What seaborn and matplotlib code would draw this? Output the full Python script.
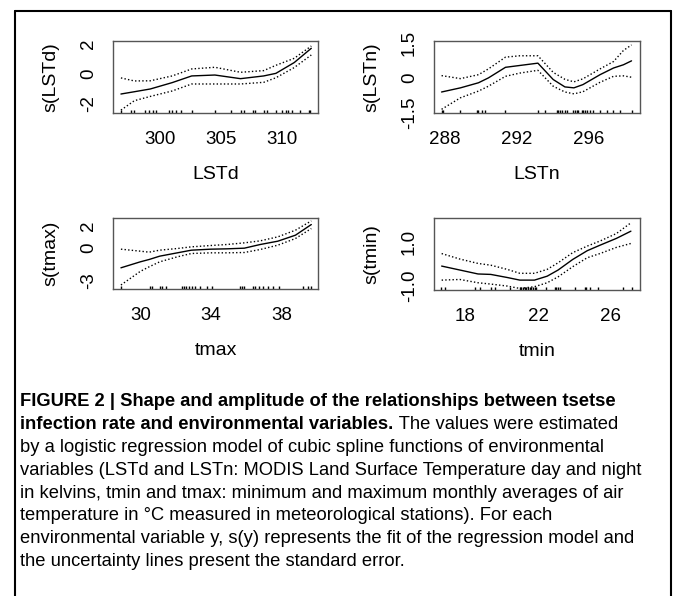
import numpy as np
import pandas as pd
import seaborn as sns
import matplotlib.pyplot as plt
from matplotlib.lines import Line2D

# ---- LSTd panel ----
lstd_x = [296.8, 297.9, 299.2, 301.0, 302.6, 304.5, 306.6, 308.5, 309.5, 311.0, 312.4]
lstd_fit = [-1.34, -1.19, -1.01, -0.59, -0.15, -0.09, -0.33, -0.15, 0.02, 0.73, 1.67]
lstd_up = [-0.28, -0.48, -0.47, -0.15, 0.31, 0.42, 0.09, 0.20, 0.55, 1.01, 1.82]
lstd_lo = [-2.40, -1.78, -1.50, -1.14, -0.68, -0.68, -0.68, -0.57, -0.27, 0.40, 1.23]
lstd_rug = [296.8, 297.6, 297.9, 298.8, 299.1, 299.4, 299.7, 300.7, 301.0, 301.3,
            301.7, 302.6, 304.5, 305.8, 306.6, 306.9, 307.6, 307.8, 308.5, 308.8,
            309.5, 310.0, 310.3, 310.5, 310.8, 311.5, 312.2, 312.3]

# ---- LSTn panel ----
lstn_x = [287.85, 288.9, 289.9, 290.45, 291.4, 292.2, 293.2, 294.05, 294.7, 295.2,
          295.7, 296.65, 297.4, 297.95, 298.4]
lstn_fit = [-0.61, -0.43, -0.21, 0.0, 0.46, 0.54, 0.64, -0.07, -0.39, -0.43,
            -0.29, 0.14, 0.43, 0.57, 0.74]
lstn_up = [0.10, -0.03, 0.14, 0.39, 0.90, 0.96, 0.96, 0.24, -0.06, -0.17,
           -0.04, 0.39, 0.71, 1.19, 1.43]
lstn_lo = [-1.36, -0.86, -0.57, -0.36, 0.07, 0.21, 0.33, -0.36, -0.61, -0.69,
           -0.60, -0.19, 0.07, 0.09, 0.03]
lstn_rug = [287.85, 287.94, 288.87, 289.8, 289.89, 290.07, 290.26, 291.37, 293.22,
            293.59, 294.24, 294.33, 294.43, 294.52, 294.7, 294.8, 295.17, 295.26,
            295.35, 295.44, 295.63, 295.72, 295.81, 295.91, 296.09, 296.28, 296.65,
            297.02, 297.39, 297.76, 298.41]

# ---- tmax panel ----
tmax_x = [28.9, 30.0, 30.5, 31.1, 32.1, 32.9, 34.0, 34.9, 35.9, 36.8, 37.8, 38.8, 39.7]
tmax_fit = [-1.83, -1.29, -1.08, -0.78, -0.48, -0.24, -0.15, -0.12, -0.06, 0.27, 0.57, 1.11, 2.07]
tmax_up = [-0.15, -0.33, -0.42, -0.24, -0.09, 0.06, 0.18, 0.27, 0.42, 0.60, 0.96, 1.56, 2.40]
tmax_lo = [-3.38, -2.15, -1.74, -1.29, -0.84, -0.54, -0.48, -0.48, -0.45, -0.18, 0.21, 0.81, 1.71]
tmax_rug = [28.91, 30.53, 30.66, 31.09, 31.23, 31.47, 32.36, 32.45, 32.6, 32.74, 32.92,
            33.11, 33.36, 33.81, 34.06, 35.66, 35.75, 35.89, 36.38, 36.51, 36.75,
            36.94, 37.26, 37.55, 37.89, 39.21, 39.53, 39.66]

# ---- tmin panel ----
tmin_x = [16.7, 17.7, 18.7, 19.4, 20.3, 21.0, 21.8, 22.5, 23.1, 23.9, 24.7, 25.4, 26.3, 27.1]
tmin_fit = [-0.09, -0.27, -0.45, -0.47, -0.61, -0.73, -0.73, -0.55, -0.27, 0.21, 0.61, 0.86, 1.17, 1.50]
tmin_up = [0.48, 0.23, 0.03, -0.05, -0.24, -0.42, -0.42, -0.24, 0.06, 0.52, 0.82, 1.05, 1.39, 1.88]
tmin_lo = [-0.73, -0.70, -0.85, -0.91, -1.00, -1.11, -1.03, -0.85, -0.58, -0.12, 0.29, 0.48, 0.76, 0.94]
tmin_rug = [16.68, 16.86, 18.51, 18.79, 19.43, 19.61, 20.44, 20.99, 21.08, 21.17, 21.27,
            21.36, 21.45, 21.54, 21.63, 21.72, 21.82, 21.91, 22.46, 22.92, 23.01,
            23.1, 23.19, 24.02, 24.57, 24.66, 24.84, 25.3, 26.68, 27.14]

caption_bold = ["FIGURE 2 | Shape and amplitude of the relationships between tsetse",
                "infection rate and environmental variables."]
caption_rest = " The values were estimated"
caption_lines = [
    "by a logistic regression model of cubic spline functions of environmental",
    "variables (LSTd and LSTn: MODIS Land Surface Temperature day and night",
    "in kelvins, tmin and tmax: minimum and maximum monthly averages of air",
    "temperature in \u00b0C measured in meteorological stations). For each",
    "environmental variable y, s(y) represents the fit of the regression model and",
    "the uncertainty lines present the standard error.",
]

sns.set_style("white")
plt.rcParams['font.family'] = ['Liberation Sans', 'DejaVu Sans']
plt.rcParams['text.color'] = 'black'
plt.rcParams['axes.labelcolor'] = 'black'

W, H = 673, 596
fig = plt.figure(figsize=(W / 100, H / 100), dpi=100)

def px(l, t, r, b):
    return [l / W, 1 - b / H, (r - l) / W, (b - t) / H]

panels = [
    dict(name="LSTd", x=lstd_x, fit=lstd_fit, up=lstd_up, lo=lstd_lo, rug=lstd_rug,
         box=(113, 41, 318, 113), xlim=(296.15, 312.95), ylim=(-2.59, 2.15),
         xt=[300, 305, 310], xl=["300", "305", "310"],
         yt=[-2, -1, 0, 1, 2], yl=["-2", "", "0", "", "2"]),
    dict(name="LSTn", x=lstn_x, fit=lstn_fit, up=lstn_up, lo=lstn_lo, rug=lstn_rug,
         box=(434, 41, 640, 113), xlim=(287.43, 298.87), ylim=(-1.52, 1.6),
         xt=[288, 290, 292, 294, 296, 298], xl=["288", "", "292", "", "296", ""],
         yt=[-1.5, -1.0, -0.5, 0, 0.5, 1.0, 1.5], yl=["-1.5", "", "", "0", "", "", "1.5"]),
    dict(name="tmax", x=tmax_x, fit=tmax_fit, up=tmax_up, lo=tmax_lo, rug=tmax_rug,
         box=(113, 218, 318, 289), xlim=(28.45, 40.08), ylim=(-3.74, 2.66),
         xt=[30, 32, 34, 36, 38, 40], xl=["30", "", "34", "", "38", ""],
         yt=[-3, -2, -1, 0, 1, 2], yl=["-3", "", "", "0", "", "2"]),
    dict(name="tmin", x=tmin_x, fit=tmin_fit, up=tmin_up, lo=tmin_lo, rug=tmin_rug,
         box=(434, 218, 640, 290), xlim=(16.28, 27.6), ylim=(-1.18, 2.1),
         xt=[18, 20, 22, 24, 26], xl=["18", "", "22", "", "26"],
         yt=[-1.0, -0.5, 0, 0.5, 1.0, 1.5, 2.0], yl=["-1.0", "", "", "", "1.0", "", ""]),
]

dots = (0, (1, 1.6))
for p in panels:
    ax = fig.add_axes(px(*p["box"]))
    df = pd.DataFrame({"x": p["x"], "fit": p["fit"], "up": p["up"], "lo": p["lo"]})
    sns.lineplot(data=df, x="x", y="fit", ax=ax, color="black", lw=1.0,
                 sort=False, estimator=None)
    sns.lineplot(data=df, x="x", y="up", ax=ax, color="black", lw=1.0,
                 linestyle=dots, sort=False, estimator=None)
    sns.lineplot(data=df, x="x", y="lo", ax=ax, color="black", lw=1.0,
                 linestyle=dots, sort=False, estimator=None)
    sns.rugplot(x=p["rug"], ax=ax, height=0.045, color="black", lw=0.8,
                expand_margins=False)
    ax.set_xlim(*p["xlim"])
    ax.set_ylim(*p["ylim"])
    ax.set_xticks(p["xt"], p["xl"])
    ax.set_yticks(p["yt"], p["yl"])
    for s in ax.spines.values():
        s.set_color("#555555")
        s.set_linewidth(1.0)
    ax.tick_params(axis="both", direction="out", color="#222222", width=0.9,
                   labelsize=13.5, labelcolor="black")
    ax.tick_params(axis="x", length=7, pad=6)
    ax.tick_params(axis="y", length=6.5, pad=5, labelrotation=90)
    for t in ax.get_yticklabels():
        t.set_verticalalignment("center")
    ax.set_xlabel(p["name"], fontsize=14, labelpad=13)
    ax.set_ylabel("s(%s)" % p["name"], fontsize=14, labelpad=15)

# outer frame
frame = dict(color="black", lw=1.5, transform=fig.transFigure)
fig.add_artist(Line2D([14.5 / W, 14.5 / W], [0, 1 - 10.5 / H], **frame))
fig.add_artist(Line2D([670.5 / W, 670.5 / W], [0, 1 - 10.5 / H], **frame))
fig.add_artist(Line2D([14.5 / W, 670.5 / W], [1 - 10.5 / H, 1 - 10.5 / H], **frame))

# caption
x0 = 20.5 / W
base0 = 406.0
step = 22.9
cap_size = 13.2
fig.text(x0, 1 - base0 / H, caption_bold[0], fontsize=cap_size, fontweight="bold",
         va="baseline", ha="left")
t2 = fig.text(x0, 1 - (base0 + step) / H, caption_bold[1], fontsize=cap_size,
              fontweight="bold", va="baseline", ha="left")
r = fig.canvas.get_renderer()
bb = t2.get_window_extent(renderer=r)
fig.text(bb.x1 / W, 1 - (base0 + step) / H, caption_rest, fontsize=cap_size,
         va="baseline", ha="left")
for i, line in enumerate(caption_lines):
    fig.text(x0, 1 - (base0 + step * (i + 2)) / H, line, fontsize=cap_size,
             va="baseline", ha="left")

fig.savefig("out.png", dpi=100)
